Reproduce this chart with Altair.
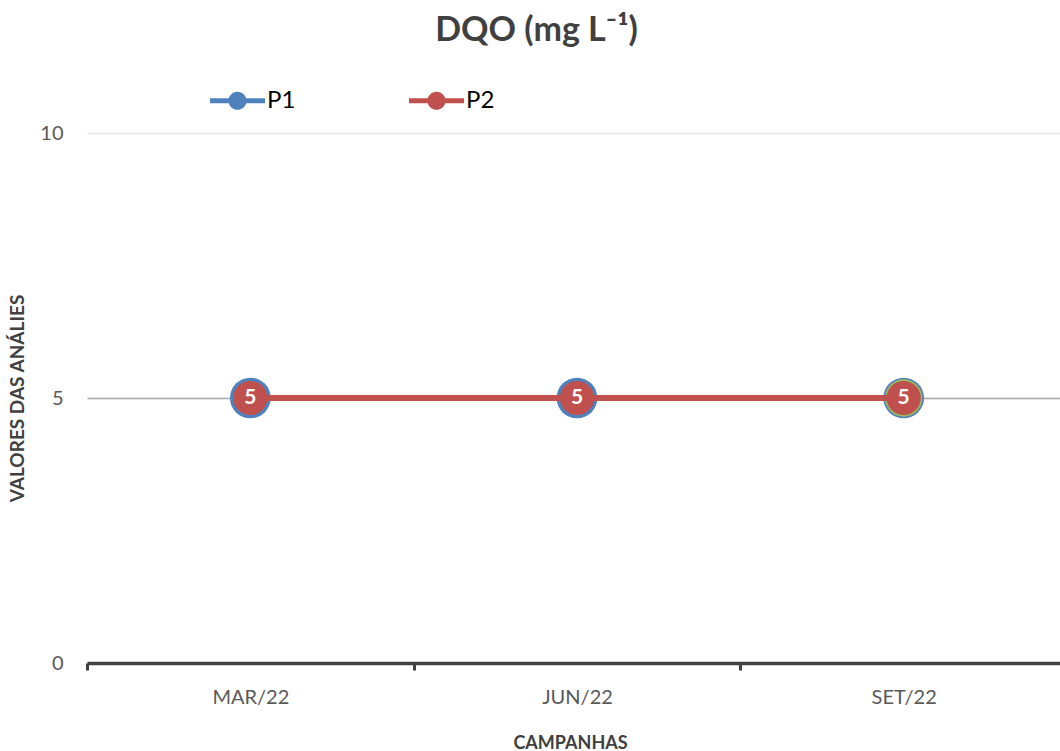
import altair as alt
import pandas as pd

# Campaigns and measured COD values per sampling point
campanhas = ["MAR/22", "JUN/22", "SET/22"]
p1 = [5, 5, 5]
p2 = [5, 5, 5]
p3 = [None, None, 5]

series_names = ["P1", "P3", "P2"]
series_values = {"P1": p1, "P3": p3, "P2": p2}
series_colors = ["#4f81bd", "#9bbb59", "#c0504d"]
marker_areas = {"P1": 1660, "P3": 1390, "P2": 1170}

rows = []
for order, name in enumerate(series_names):
    for camp, val in zip(campanhas, series_values[name]):
        if val is not None:
            rows.append({"campanha": camp, "serie": name, "valor": val,
                         "area": marker_areas[name], "ordem": order})
df = pd.DataFrame(rows)

FONT = "Lato"

# the category axis runs a little past the right edge of the view
x_enc = alt.X(
    "campanha:N",
    sort=campanhas,
    scale=alt.Scale(paddingInner=0, paddingOuter=0, range=[0, 980]),
    axis=alt.Axis(
        title="CAMPANHAS",
        titleX=483,
        labelAngle=0,
        tickBand="extent",
        domainColor="#404040",
        domainWidth=3.5,
        tickColor="#404040",
        tickWidth=3,
        tickSize=7,
        labelPadding=17,
        labelFontSize=20,
        labelColor="#595959",
        labelFont=FONT,
        titleFont=FONT,
        titleFontSize=18,
        titleFontWeight="bold",
        titleColor="#404040",
        titlePadding=27,
        grid=False,
    ),
)
y_enc = alt.Y(
    "valor:Q",
    scale=alt.Scale(domain=[0, 10], nice=False),
    axis=alt.Axis(
        title="VALORES DAS ANÁLIES",
        values=[0, 5, 10],
        domain=False,
        ticks=False,
        labelPadding=24,
        labelFontSize=20,
        labelColor="#595959",
        labelFont=FONT,
        titleFont=FONT,
        titleFontSize=19,
        titleFontWeight="bold",
        titleColor="#404040",
        titlePadding=12,
        grid=True,
        gridColor={"condition": {"test": "datum.value === 5", "value": "#a6a6a6"}, "value": "#e3e3e3"},
        gridWidth=1.5,
    ),
)

line_p1 = alt.Chart(df).transform_filter(alt.datum.serie == "P1").mark_line(
    strokeWidth=6, color="#4f81bd"
).encode(x=x_enc, y=y_enc)

legend_shape = (
    "M-1,-0.09H1V0.09H-1Z"
    "M-0.33,0A0.33,0.33 0 1,1 0.33,0A0.33,0.33 0 1,1 -0.33,0Z"
)

points = alt.Chart(df).mark_circle(opacity=1).encode(
    x=x_enc,
    y=y_enc,
    fill=alt.Fill(
        "serie:N",
        scale=alt.Scale(domain=series_names, range=series_colors),
        legend=alt.Legend(
            title=None,
            values=["P1", "P2"],
            orient="none",
            direction="horizontal",
            legendX=123,
            legendY=-60,
            symbolType=legend_shape,
            symbolSize=3025,
            symbolOpacity=1,
            symbolStrokeWidth=0,
            labelFont=FONT,
            labelFontSize=24,
            labelColor="#000000",
            labelOffset=2,
            columnPadding=113,
            padding=0,
        ),
    ),
    size=alt.Size("area:Q", scale=None),
    order=alt.Order("ordem:Q"),
)

line_p2 = alt.Chart(df).transform_filter(alt.datum.serie == "P2").mark_line(
    strokeWidth=6, color="#c0504d"
).encode(x=x_enc, y=y_enc)

labels = alt.Chart(df).transform_filter(alt.datum.serie == "P2").mark_text(
    font=FONT, fontSize=21, fontWeight="bold", color="#ffffff", baseline="middle", align="center"
).encode(x=x_enc, y=y_enc, text=alt.Text("valor:Q"))

chart = alt.layer(line_p1, points, line_p2, labels).properties(
    width=973,
    height=530,
    background="#ffffff",
    title=alt.TitleParams(
        text="DQO (mg L⁻¹)",
        font=FONT,
        fontSize=34,
        fontWeight="bold",
        color="#404040",
        anchor="middle",
        dx=-37,
        offset=25,
    ),
    padding={"left": 87, "top": 133, "right": 0, "bottom": 88},
    autosize=alt.AutoSizeParams(type="none"),
).configure_view(stroke=None)

chart.save("out.html", embed_options={"renderer": "svg", "actions": False})
